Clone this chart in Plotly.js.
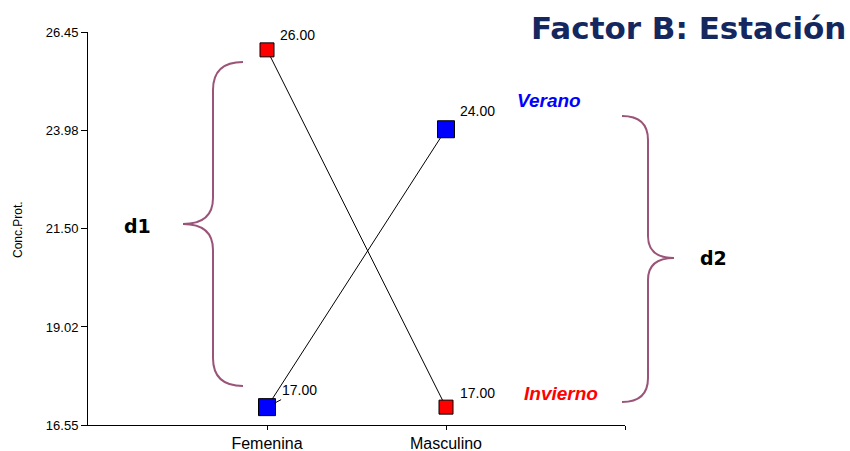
<!DOCTYPE html>
<html>
<head>
<meta charset="utf-8">
<script src="https://cdn.plot.ly/plotly-3.0.1.min.js"></script>
<style>html,body{margin:0;padding:0;background:#fff;}#chart{width:850px;height:451px;}</style>
</head>
<body>
<div id="chart"></div>
<script>
// ---- data ----
var categories = ["Femenina", "Masculino"];
var categoryPos = [0, 1];
var inviernoValues = [26, 17];
var veranoValues = [17, 24];
var seriesNames = ["Invierno", "Verano"];
var yTickVals = [16.55, 19.02, 21.50, 23.98, 26.45];
var yTickText = ["16.55", "19.02", "21.50", "23.98", "26.45"];
var titleText = "Factor B: Estación";
var yTitle = "Conc.Prot.";

// ---- layout helpers (pixel -> paper) ----
var L = 88, R = 625, T = 32, B = 425, W = 850, H = 451;
function fx(p){ return (p - L) / (R - L); }
function fy(p){ return (B - p) / (B - T); }
function pt(x, y){ return fx(x).toFixed(5) + "," + fy(y).toFixed(5); }

var braceColor = "#9a5478";

var traces = [
  {
    x: categoryPos, y: inviernoValues, name: seriesNames[0],
    mode: "lines+markers", type: "scatter",
    line: {color: "#000", width: 1},
    marker: {symbol: "square", size: 14, color: "#ff0000", line: {color: "#000", width: 1}},
    cliponaxis: false
  },
  {
    x: categoryPos, y: veranoValues, name: seriesNames[1],
    mode: "lines+markers", type: "scatter",
    line: {color: "#000", width: 1},
    marker: {symbol: "square", size: 17, color: "#0000ff", line: {color: "#000", width: 1}},
    cliponaxis: false
  }
];

function fmt(v){ return v.toFixed(2); }
var numFont = {family: "Liberation Sans, Arial, sans-serif", size: 14, color: "#000"};

function paperText(x, y, text, font, extra){
  var a = {x: fx(x), y: fy(y), xref: "paper", yref: "paper", text: text,
    showarrow: false, xanchor: "center", yanchor: "middle", font: font};
  if (extra) for (var k in extra) a[k] = extra[k];
  return a;
}

var annotations = [
  {x: categoryPos[0], y: inviernoValues[0], xref: "x", yref: "y", text: fmt(inviernoValues[0]),
   showarrow: false, xshift: 30, yshift: 15, font: numFont},
  {x: categoryPos[1], y: inviernoValues[1], xref: "x", yref: "y", text: fmt(inviernoValues[1]),
   showarrow: false, xshift: 31, yshift: 14, font: numFont},
  {x: categoryPos[1], y: veranoValues[1], xref: "x", yref: "y", text: fmt(veranoValues[1]),
   showarrow: false, xshift: 31, yshift: 18, font: numFont},
  {x: categoryPos[0], y: veranoValues[0], xref: "x", yref: "y", text: fmt(veranoValues[0]),
   showarrow: true, ax: 32, ay: -17, arrowhead: 0, arrowwidth: 1, arrowcolor: "#000",
   standoff: 8, font: numFont},
  paperText(549, 101, "<b><i>" + seriesNames[1] + "</i></b>",
    {family: "Liberation Sans, Arial, sans-serif", size: 19, color: "#0000ff"}),
  paperText(561, 393, "<b><i>" + seriesNames[0] + "</i></b>",
    {family: "Liberation Sans, Arial, sans-serif", size: 19, color: "#ff0000"}),
  paperText(688, 28, "<b>" + titleText + "</b>",
    {family: "DejaVu Sans, sans-serif", size: 31, color: "#14285f"}),
  paperText(137, 226, "<b>d1</b>", {family: "DejaVu Sans, sans-serif", size: 19, color: "#000"}),
  paperText(713, 258, "<b>d2</b>", {family: "DejaVu Sans, sans-serif", size: 19, color: "#000"}),
  paperText(18, 230, yTitle,
    {family: "Liberation Sans Narrow, Arial Narrow, sans-serif", size: 12, color: "#000"}, {textangle: -90})
];

var leftBrace = "M " + pt(243,62) + " Q " + pt(213,62) + " " + pt(213,90) +
  " L " + pt(213,198) + " Q " + pt(213,224) + " " + pt(183,224) +
  " Q " + pt(213,224) + " " + pt(213,250) + " L " + pt(213,358) +
  " Q " + pt(213,386) + " " + pt(243,386);
var rightBrace = "M " + pt(622,116) + " Q " + pt(648,116) + " " + pt(648,140) +
  " L " + pt(648,236) + " Q " + pt(648,258) + " " + pt(674,258) +
  " Q " + pt(648,258) + " " + pt(648,280) + " L " + pt(648,378) +
  " Q " + pt(648,402) + " " + pt(622,402);

var shapes = [
  {type: "path", xref: "paper", yref: "paper", path: leftBrace, line: {color: braceColor, width: 2}},
  {type: "path", xref: "paper", yref: "paper", path: rightBrace, line: {color: braceColor, width: 2}}
];

var layout = {
  width: W, height: H,
  margin: {l: L, r: W - R, t: T, b: H - B},
  paper_bgcolor: "#fff", plot_bgcolor: "#fff",
  showlegend: false,
  xaxis: {
    range: [-1, 2], tickvals: [0, 1, 2], ticktext: [categories[0], categories[1], ""],
    showgrid: false, zeroline: false, showline: true, linecolor: "#000", linewidth: 1,
    ticks: "outside", ticklen: 4, tickcolor: "#000", ticklabelstandoff: 0,
    tickfont: {family: "Liberation Sans, Arial, sans-serif", size: 16, color: "#000"}
  },
  yaxis: {
    range: [16.55, 26.45], tickvals: yTickVals, ticktext: yTickText,
    showgrid: false, zeroline: false, showline: true, linecolor: "#000", linewidth: 1,
    ticks: "outside", ticklen: 6, tickcolor: "#000",
    tickfont: {family: "Liberation Sans, Arial, sans-serif", size: 13, color: "#000"}
  },
  annotations: annotations,
  shapes: shapes
};

Plotly.newPlot("chart", traces, layout, {staticPlot: true, displayModeBar: false});
</script>
</body>
</html>
